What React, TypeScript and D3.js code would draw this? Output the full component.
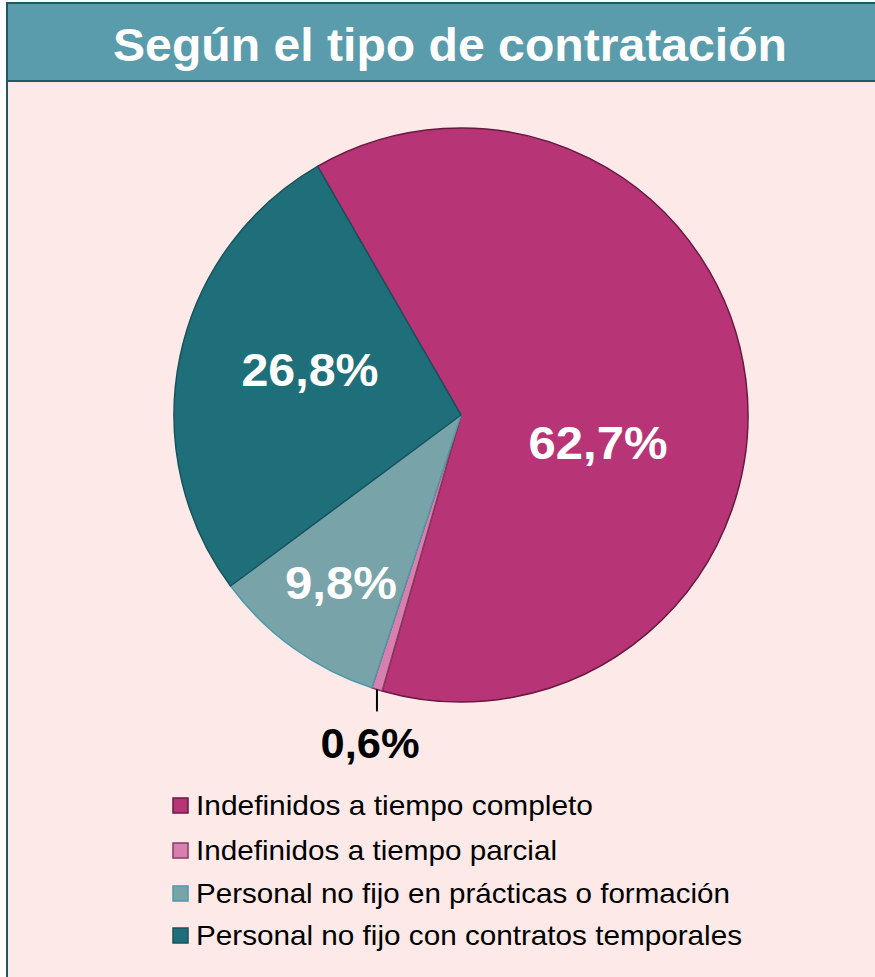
import React from "react";
import * as d3 from "d3";

const categories = [
  "Indefinidos a tiempo completo",
  "Indefinidos a tiempo parcial",
  "Personal no fijo en prácticas o formación",
  "Personal no fijo con contratos temporales",
];
const values = [62.7, 0.6, 9.8, 26.8];
const labels = ["62,7%", "0,6%", "9,8%", "26,8%"];
const fills = ["#b73577", "#d77fae", "#78a4a9", "#1f6f7b"];
const strokes = ["#6a1840", "#8a3a62", "#4e9aa8", "#18535c"];
const title = "Según el tipo de contratación";

export default function App() {
  const W = 875, H = 977;
  const cx = 461, cy = 415, r = 287;
  const startA = (-30 * Math.PI) / 180;
  const pie = d3.pie<number>().sort(null).value((d) => d)
    .startAngle(startA).endAngle(startA + 2 * Math.PI);
  const arcs = pie(values);
  const arc = d3.arc<d3.PieArcDatum<number>>().innerRadius(0).outerRadius(r);
  const font = "'Liberation Sans', Arial, Helvetica, sans-serif";
  // [centerX, baseline, width]
  const labelPos: [number, number, number][] = [
    [598, 459, 139], [370, 758, 99], [341, 599, 112], [310, 386, 137],
  ];
  const legendBase = [815, 860, 903, 945];
  const legendW = [397, 361, 534, 546];
  const small = arcs[1];
  const midA = (small.startAngle + small.endAngle) / 2;
  const lx = cx + Math.sin(midA) * r;
  const ly = cy - Math.cos(midA) * r;
  return (
    <svg width={W} height={H} style={{ position: "absolute", left: 0, top: 0 }}>
      <rect x={0} y={0} width={W} height={H} fill="#ffffff" />
      <rect x={7} y={3} width={W} height={H} fill="#fdeae8" />
      <rect x={7} y={3} width={W} height={79} fill="#5a9cab" />
      <line x1={6} y1={3} x2={W} y2={3} stroke="#1f5a63" strokeWidth={2} />
      <line x1={6} y1={81} x2={W} y2={81} stroke="#1f5a63" strokeWidth={2} />
      <line x1={7} y1={2} x2={7} y2={H} stroke="#1f5a63" strokeWidth={2} />
      <text x={450} y={61} textAnchor="middle" fill="#ffffff" fontFamily={font}
        fontWeight="bold" fontSize={47} textLength={674} lengthAdjust="spacingAndGlyphs">{title}</text>
      <g transform={`translate(${cx},${cy})`}>
        {arcs.map((a, i) => (
          <path key={i} d={arc(a) || ""} fill={fills[i]} stroke={strokes[i]} strokeWidth={1.5} strokeLinejoin="round" />
        ))}
      </g>
      <line x1={lx} y1={ly} x2={lx} y2={ly + 22} stroke="#000" strokeWidth={2} />
      {labels.map((t, i) => (
        <text key={i} x={labelPos[i][0]} y={labelPos[i][1]} textAnchor="middle"
          fill={i === 1 ? "#000" : "#fff"} fontFamily={font} fontWeight="bold"
          fontSize={i === 1 ? 42 : 46} textLength={labelPos[i][2]} lengthAdjust="spacingAndGlyphs">{t}</text>
      ))}
      {categories.map((c, i) => {
        const y = legendBase[i];
        return (
          <g key={i}>
            <rect x={173} y={y - 17} width={15} height={15} fill={fills[i]} stroke={strokes[i]} strokeWidth={1.5} />
            <text x={196} y={y} fontFamily={font} fontSize={28.5} fill="#000"
              textLength={legendW[i]} lengthAdjust="spacingAndGlyphs">{c}</text>
          </g>
        );
      })}
    </svg>
  );
}
